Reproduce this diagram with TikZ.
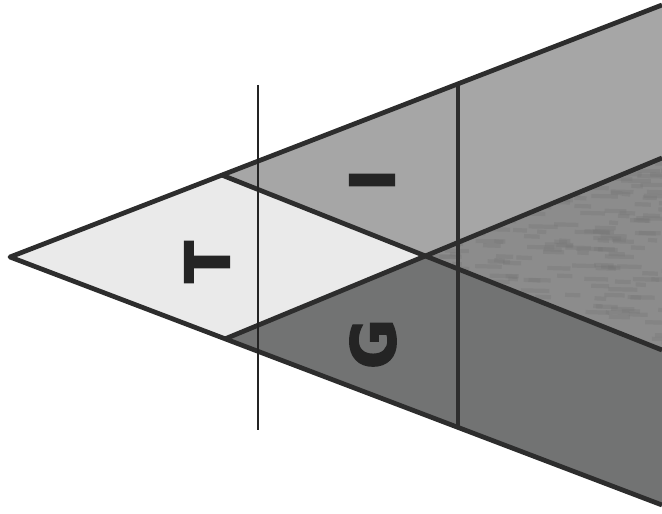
\documentclass[tikz,border=0pt]{standalone}
\usepackage{fontspec}
\setmainfont{DejaVu Sans}
\newfontfamily\blockfont{DejaVu Sans}[BoldFeatures={FakeBold=2.2}]
\usetikzlibrary{calc}
\definecolor{paleface}{RGB}{234,234,234}
\definecolor{upperface}{RGB}{166,166,166}
\definecolor{floorface}{RGB}{140,140,140}
\definecolor{floorstreak}{RGB}{118,118,118}
\definecolor{lowerface}{RGB}{114,115,115}
\definecolor{edgegray}{RGB}{45,45,45}
\definecolor{inkblack}{RGB}{36,36,36}

\begin{document}
\begin{tikzpicture}[x=0.01cm, y=-0.01cm,
    edge/.style={edgegray, line width=1.35pt, line join=round},
    letter/.style={font=\blockfont\fontsize{17.5}{17.5}\selectfont\bfseries,
                   text=inkblack, rotate=90, inner sep=0pt}]
    \useasboundingbox (0,0) rectangle (662,513);

    % Corner points
    \coordinate (apex) at (10,257);
    \coordinate (tr) at (662,5);
    \coordinate (br) at (662,505);
    \coordinate (tl) at ($(apex)!0.325!(tr)$);
    \coordinate (bl) at ($(apex)!0.33!(br)$);
    \coordinate (rhi) at (662,158);
    \coordinate (rlo) at (662,350);
    \coordinate (ctr) at (intersection of tl--rlo and bl--rhi);
    \coordinate (vtop) at ($(apex)!0.687!(tr)$);
    \coordinate (vbot) at ($(apex)!0.687!(br)$);

    % Faces
    \fill[paleface] (apex) -- (tl) -- (ctr) -- (bl) -- cycle;
    \fill[upperface] (tl) -- (tr) -- (rhi) -- (ctr) -- cycle;
    \fill[floorface] (ctr) -- (rhi) -- (rlo) -- cycle;
    \fill[lowerface] (bl) -- (ctr) -- (rlo) -- (br) -- cycle;

    % Mottled floor
    \begin{scope}
        \clip (ctr) -- (rhi) -- (rlo) -- cycle;
        \pgfmathsetseed{7}
        \foreach \k in {1,...,260} {
            \pgfmathsetmacro{\sx}{420 + 242*rnd}
            \pgfmathsetmacro{\sy}{160 + 190*rnd}
            \pgfmathsetmacro{\sl}{8 + 22*rnd}
            \draw[floorstreak, opacity=0.35, line width=1.2pt]
                (\sx,\sy) -- ++(\sl,0.6);
        }
    \end{scope}

    % Letters
    \node[letter] (lblT) at (207,262) {T};
    \node[letter] (lblI) at (372,180) {I};
    \node[letter] (lblG) at (373,344) {G};

    % Edges
    \draw[edge] (tr) -- (apex) -- (br);
    \draw[edge] (tl) -- (rlo);
    \draw[edge] (bl) -- (rhi);
    \draw[edge] (vtop) -- (vbot);

    % Cut line
    \draw[inkblack, line width=0.55pt] (258,85) -- (258,430);
\end{tikzpicture}
\end{document}
